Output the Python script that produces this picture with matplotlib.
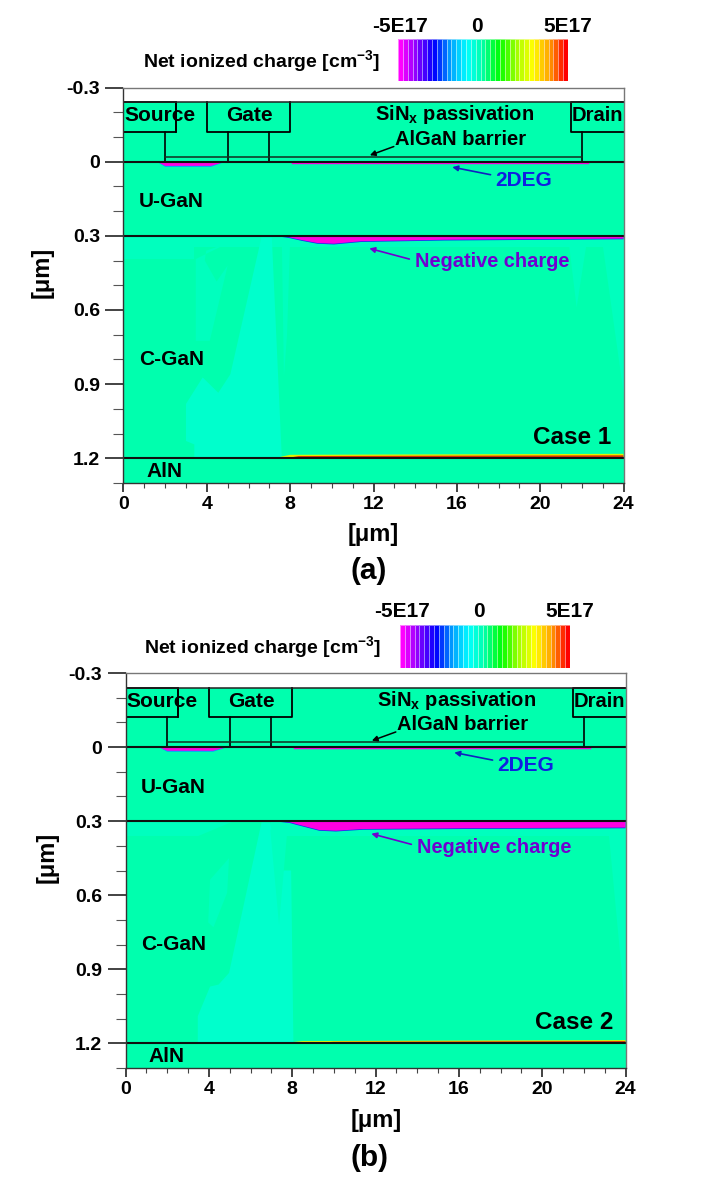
import numpy as np
import matplotlib
matplotlib.use("Agg")
import matplotlib.pyplot as plt
from matplotlib.colors import LinearSegmentedColormap

plt.rcParams['font.family'] = ['Liberation Sans', 'DejaVu Sans']
plt.rcParams['font.weight'] = 'bold'
plt.rcParams['mathtext.fontset'] = 'custom'
plt.rcParams['mathtext.rm'] = 'Liberation Sans:bold'
plt.rcParams['mathtext.bf'] = 'Liberation Sans:bold'
plt.rcParams['mathtext.default'] = 'bf'

W, H = 708, 1190
BG = '#00FFAE'
CY = '#00FFBE'
CY2 = '#00FFCC'
MAG = '#FF00E0'
BLUE = '#1030F0'

x_major = [0, 4, 8, 12, 16, 20, 24]
y_major = [-0.3, 0, 0.3, 0.6, 0.9, 1.2]
y_labels = ['-0.3', '0', '0.3', '0.6', '0.9', '1.2']
layer_lines = [0, 0.3, 1.2]
cbar_levels = np.arange(-17, 18) / 17 * 5e17
cbar_ticks = ['-5E17', '0', '5E17']

# device outline (um)
source_x = [0, 2.5, 2.5, 0]
source_y = [-0.24, -0.24, -0.12, -0.12]
gate_x = [4, 4, 8, 8]
gate_y = [-0.24, -0.12, -0.12, -0.24]
drain_x = [24, 21.5, 21.5, 24]
drain_y = [-0.12, -0.12, -0.24, -0.24]
stems_x = [2, 5, 7, 22]
barrier_top = -0.02

# panel a regions (um)
a_band_x = [0, 24, 24, 0]
a_band_y = [0.3, 0.3, 0.347, 0.347]
a_left_x = [0, 3.4, 3.4, 0]
a_left_y = [0.34, 0.34, 0.394, 0.394]
a_strip_x = [3.47, 3.47, 4.14, 5.0, 4.47, 3.9, 3.97, 5.0]
a_strip_y = [0.394, 0.725, 0.725, 0.42, 0.485, 0.40, 0.36, 0.33]
a_big_x = [3.4, 3.4, 3.0, 3.0, 3.8, 4.55, 5.13, 6.62, 7.12, 7.6]
a_big_y = [1.2, 1.144, 1.13, 0.98, 0.873, 0.935, 0.86, 0.307, 0.307, 1.2]
a_side_x = [7.6, 8.0, 7.85, 7.7]
a_side_y = [0.31, 0.31, 0.7, 0.87]
a_wedge1_x = [21.4, 22.2, 21.75]
a_wedge1_y = [0.345, 0.345, 0.59]
a_wedge2_x = [23.0, 24, 24]
a_wedge2_y = [0.345, 0.345, 0.95]
a_2deg_x = [1.6, 2.0, 4.2, 4.9]
a_2deg_y = [0.0, 0.017, 0.017, 0.0]
a_2deg_thin_x = [8.1, 22.3]
a_2deg_thin_y = [0.005, 0.005]
a_neg_x = [7.2, 7.9, 8.6, 9.3, 10.1, 11.4, 15.4, 24, 24]
a_neg_y = [0.3, 0.305, 0.318, 0.329, 0.332, 0.322, 0.316, 0.311, 0.3]
a_yel_x = [7.2, 8.0, 24, 24]
a_yel_y = [1.2, 1.186, 1.182, 1.2]
a_red_x = [7.8, 8.4, 24, 24]
a_red_y = [1.2, 1.191, 1.188, 1.2]

# panel b regions (um)
b_band_x = [7.0, 24, 24, 7.0]
b_band_y = [0.3, 0.3, 0.362, 0.362]
b_left_x = [0, 5.2, 3.5, 0]
b_left_y = [0.3, 0.3, 0.36, 0.36]
b_strip_x = [4.06, 4.97, 4.88, 4.22, 3.97]
b_strip_y = [0.537, 0.45, 0.59, 0.73, 0.71]
b_big_x = [3.47, 3.47, 4.06, 4.47, 4.97, 6.53, 6.95, 7.3, 7.95, 8.06]
b_big_y = [1.2, 1.09, 0.97, 0.962, 0.915, 0.305, 0.305, 0.5, 0.5, 1.2]
b_tip_x = [6.95, 7.37, 7.77]
b_tip_y = [0.335, 0.72, 0.335]
b_wedge_x = [23.2, 24, 24]
b_wedge_y = [0.36, 0.36, 1.09]
b_2deg_x = [1.6, 2.0, 4.2, 4.9]
b_2deg_y = [0.0, 0.015, 0.015, 0.0]
b_2deg_thin_x = [8.1, 22.3]
b_2deg_thin_y = [0.005, 0.005]
b_neg_x = [7.1, 7.9, 8.2, 9.3, 10.1, 11.4, 16, 24, 24]
b_neg_y = [0.3, 0.305, 0.312, 0.336, 0.339, 0.332, 0.329, 0.326, 0.3]
b_yel_x = [7.4, 8.5, 24, 24]
b_yel_y = [1.2, 1.191, 1.187, 1.2]
b_red_x = [8.6, 10, 24, 24]
b_red_y = [1.2, 1.194, 1.191, 1.2]

rainbow = LinearSegmentedColormap.from_list('tec', [
    '#FF00FF', '#8000FF', '#0000FF', '#00A0FF', '#00FFFF', '#00FFA0',
    '#00FF00', '#A0FF00', '#FFFF00', '#FFA000', '#FF0000'])

fig = plt.figure(figsize=(W / 100, H / 100), dpi=100)


def panel(left, right, top, bottom, regions, pm):
    ax = fig.add_axes([left / W, 1 - bottom / H, (right - left) / W, (bottom - top) / H])
    ax.set_xlim(0, 24)
    ax.set_ylim(1.3, -0.3)
    ax.fill_between([0, 24], -0.24, 1.3, color=BG, lw=0, zorder=1)
    for rx, ry, c in regions:
        ax.fill(rx, ry, color=c, lw=0, zorder=2)
    # device outline
    ax.plot(source_x, source_y, color='k', lw=1.3, zorder=5)
    ax.plot([2.5, 2.5], [-0.24, -0.12], color='k', lw=1.3, zorder=5)
    ax.plot(gate_x, gate_y, color='k', lw=1.3, zorder=5)
    ax.plot(drain_x, drain_y, color='k', lw=1.3, zorder=5)
    ax.plot([0, 24], [-0.24, -0.24], color='#222222', lw=1.1, zorder=5)
    for sx in stems_x:
        ax.plot([sx, sx], [-0.12, 0], color='k', lw=1.2, zorder=5)
    ax.plot([2, 22], [barrier_top, barrier_top], color='#103020', lw=1.1, zorder=5)
    for yy in layer_lines:
        ax.plot([0, 24], [yy, yy], color='#101010', lw=1.5, zorder=6)
    # axes
    for s in ('top', 'right'):
        ax.spines[s].set_color('#777777')
    for s in ('left', 'bottom'):
        ax.spines[s].set_color('#333333')
    for s in ax.spines.values():
        s.set_linewidth(1.0)
        s.set_zorder(7)
    ax.set_xticks(x_major)
    ax.set_xticks(np.arange(0, 25, 1), minor=True)
    ax.set_yticks(y_major)
    ax.set_yticklabels(y_labels)
    ax.set_yticks(np.arange(-0.3, 1.31, 0.1), minor=True)
    ax.tick_params(axis='x', which='major', length=6.5, width=1.2, labelsize=14, pad=3, color='#222222')
    ax.tick_params(axis='x', which='minor', length=3.5, width=0.8, color='#444444')
    ax.tick_params(axis='y', which='major', length=13, width=1.2, labelsize=14, pad=4, color='#222222')
    ax.tick_params(axis='y', which='minor', length=7, width=0.8, color='#555555')
    # labels
    fs = 15
    ax.text(1.75, -0.186, 'Source', ha='center', va='center', fontsize=fs, zorder=8)
    ax.text(6.05, -0.186, 'Gate', ha='center', va='center', fontsize=fs, zorder=8)
    ax.text(22.75, -0.186, 'Drain', ha='center', va='center', fontsize=14.5, zorder=8)
    ax.text(15.9, -0.19, r'SiN$_{\mathbf{x}}$ passivation', ha='center', va='center', fontsize=14.5, zorder=8)
    ax.text(16.2, -0.09, 'AlGaN barrier', ha='center', va='center', fontsize=14.5, zorder=8)
    ax.text(0.75, 0.162, 'U-GaN', ha='left', va='center', fontsize=fs, zorder=8)
    ax.text(0.75, 0.8, 'C-GaN', ha='left', va='center', fontsize=fs, zorder=8)
    ax.text(1.1, 1.252, 'AlN', ha='left', va='center', fontsize=fs, zorder=8)
    ax.text(23.4, 1.115, pm['case'], ha='right', va='center', fontsize=17.5, zorder=8)
    ax.text(17.85, 0.075, '2DEG', ha='left', va='center', fontsize=fs, color='#1020E0', zorder=8)
    ax.text(13.97, 0.405, 'Negative charge', ha='left', va='center', fontsize=14.4, color='#7000D0', zorder=8)
    ax.annotate('', xy=(11.7, -0.022), xytext=(13.1, -0.065),
                arrowprops=dict(arrowstyle='-|>', color='k', lw=1.1, mutation_scale=8), zorder=8)
    ax.annotate('', xy=(15.65, 0.02), xytext=(17.75, 0.055),
                arrowprops=dict(arrowstyle='-|>', color='#1020C0', lw=1.2, mutation_scale=8), zorder=8)
    ax.annotate('', xy=(11.67, 0.348), xytext=(13.85, 0.397),
                arrowprops=dict(arrowstyle='-|>', color='#7000D0', lw=1.2, mutation_scale=8), zorder=8)
    # outer texts
    fig.text(pm['xl'] / W, 1 - pm['xly'] / H, '[μm]', ha='center', va='center', fontsize=17)
    fig.text(pm['tag_x'] / W, 1 - pm['tag_y'] / H, pm['tag'], ha='center', va='center', fontsize=21.5)
    fig.text(pm['yl'] / W, 1 - pm['yly'] / H, '[μm]', ha='center', va='center', rotation=90, fontsize=17)
    # colour bar
    cax = fig.add_axes([pm['cl'] / W, 1 - pm['cb'] / H, (pm['cr'] - pm['cl']) / W, (pm['cb'] - pm['ct']) / H])
    cax.pcolormesh(np.arange(cbar_levels.size + 1), [0, 1],
                   cbar_levels[None, :], cmap=rainbow, vmin=-5e17, vmax=5e17,
                   edgecolors='#FFFFFF80', linewidth=0.5)
    cax.axis('off')
    for lbl, tx in zip(cbar_ticks, pm['cticks']):
        fig.text(tx / W, 1 - pm['cty'] / H, lbl, ha='center', va='center', fontsize=15)
    fig.text(pm['nl'] / W, 1 - pm['ny'] / H, r'Net ionized charge [cm$^{\mathbf{-3}}$]',
             ha='left', va='center', fontsize=14)
    return ax


regions_a = [
    (a_band_x, a_band_y, CY), (a_left_x, a_left_y, CY), (a_strip_x, a_strip_y, CY),
    (a_big_x, a_big_y, CY2), (a_side_x, a_side_y, CY), (a_wedge1_x, a_wedge1_y, CY),
    (a_wedge2_x, a_wedge2_y, CY),
    (a_neg_x, [v + 0.003 if v > 0.3 else v for v in a_neg_y], BLUE), (a_neg_x, a_neg_y, MAG),
    (a_2deg_x, [v + 0.004 if v > 0 else v for v in a_2deg_y], '#00A0FF'), (a_2deg_x, a_2deg_y, MAG),
    (a_yel_x, a_yel_y, '#E0F000'), (a_red_x, a_red_y, '#E03000'),
]
regions_b = [
    (b_band_x, b_band_y, CY), (b_left_x, b_left_y, CY), (b_strip_x, b_strip_y, CY),
    (b_big_x, b_big_y, CY2), (b_tip_x, b_tip_y, CY), (b_wedge_x, b_wedge_y, CY),
    (b_neg_x, [v + 0.003 if v > 0.3 else v for v in b_neg_y], BLUE), (b_neg_x, b_neg_y, MAG),
    (b_2deg_x, [v + 0.004 if v > 0 else v for v in b_2deg_y], '#00A0FF'), (b_2deg_x, b_2deg_y, MAG),
    (b_yel_x, b_yel_y, '#E0F000'), (b_red_x, b_red_y, '#E03000'),
]

ax_a = panel(123.5, 623.5, 87.5, 483, regions_a, dict(
    case='Case 1', tag='(a)', tag_x=369, tag_y=571, xl=373, xly=535, yl=42, yly=272,
    cl=398, cr=568, ct=39, cb=81, cticks=[400, 477, 568], cty=26, nl=143, ny=61))
ax_a.plot(a_2deg_thin_x, a_2deg_thin_y, color=MAG, lw=1.0, zorder=4)

ax_b = panel(125.5, 625.5, 673, 1068, regions_b, dict(
    case='Case 2', tag='(b)', tag_x=370, tag_y=1158, xl=376, xly=1120, yl=47, yly=857,
    cl=400, cr=570, ct=625, cb=668, cticks=[402, 479, 570], cty=612, nl=144, ny=647))
ax_b.plot(b_2deg_thin_x, b_2deg_thin_y, color=MAG, lw=1.0, zorder=4)

fig.savefig('out.png', dpi=100)
